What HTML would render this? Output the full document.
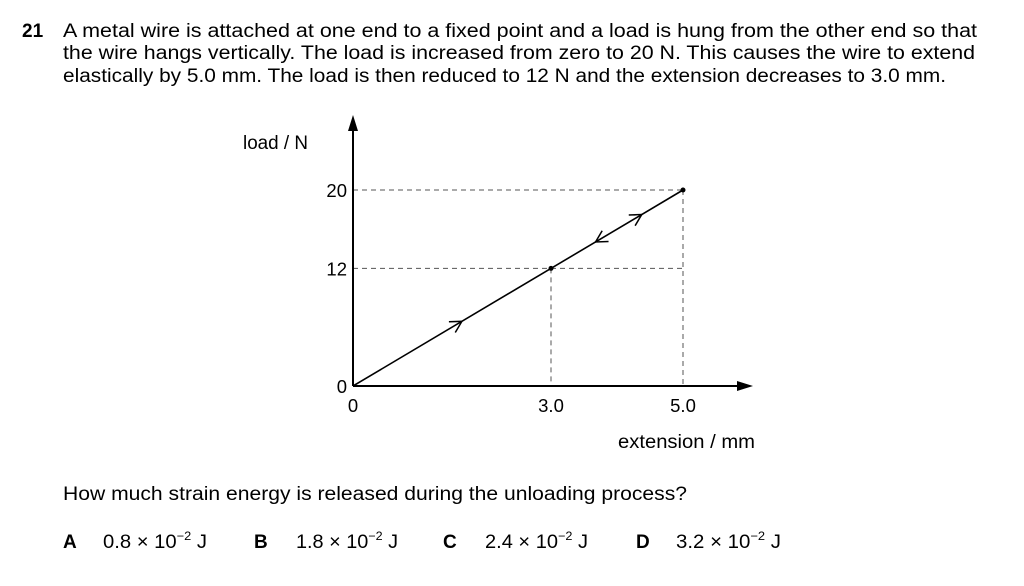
<!DOCTYPE html>
<html><head><meta charset="utf-8"><style>
html,body{margin:0;padding:0;background:#fff;}
svg{display:block;font-family:"Liberation Sans",Arial,sans-serif;}
</style></head><body>
<svg id="page" width="1024" height="586" viewBox="0 0 1024 586">
<g font-size="19" fill="#000">
<text x="22" y="37" font-weight="bold">21</text>
<text x="63" y="37" textLength="914" lengthAdjust="spacingAndGlyphs">A metal wire is attached at one end to a fixed point and a load is hung from the other end so that</text>
<text x="63" y="59" textLength="912" lengthAdjust="spacingAndGlyphs">the wire hangs vertically. The load is increased from zero to 20 N. This causes the wire to extend</text>
<text x="63" y="82" textLength="883" lengthAdjust="spacingAndGlyphs">elastically by 5.0 mm. The load is then reduced to 12 N and the extension decreases to 3.0 mm.</text>
</g>
<g id="chart"></g>
<text x="63" y="500" font-size="19" textLength="624" lengthAdjust="spacingAndGlyphs">How much strain energy is released during the unloading process?</text>
<g font-size="19">
<g><text x="63" y="548" font-weight="bold">A</text><text x="103" y="548" textLength="104" lengthAdjust="spacingAndGlyphs">0.8 × 10<tspan dy="-8" font-size="12">−2</tspan><tspan dy="8"> J</tspan></text></g>
<g><text x="254" y="548" font-weight="bold">B</text><text x="296" y="548" textLength="102" lengthAdjust="spacingAndGlyphs">1.8 × 10<tspan dy="-8" font-size="12">−2</tspan><tspan dy="8"> J</tspan></text></g>
<g><text x="443" y="548" font-weight="bold">C</text><text x="485" y="548" textLength="103" lengthAdjust="spacingAndGlyphs">2.4 × 10<tspan dy="-8" font-size="12">−2</tspan><tspan dy="8"> J</tspan></text></g>
<g><text x="636" y="548" font-weight="bold">D</text><text x="676" y="548" textLength="105" lengthAdjust="spacingAndGlyphs">3.2 × 10<tspan dy="-8" font-size="12">−2</tspan><tspan dy="8"> J</tspan></text></g>
</g>
</svg>
<script>
const xTicks=[0,3.0,5.0];
const xTickLabels=["0","3.0","5.0"];
const yTicks=[0,12,20];
const yTickLabels=["0","12","20"];
const pathExt=[0,5.0,3.0];
const pathLoad=[0,20,12];
const NS="http://www.w3.org/2000/svg";
const g=document.getElementById('chart');
const X0=353,Y0=386,SX=66,SY=9.8;
function sx(v){return X0+v*SX;}
function sy(v){return Y0-v*SY;}
function mk(t,a,parent){const e=document.createElementNS(NS,t);for(const k in a)e.setAttribute(k,a[k]);(parent||g).appendChild(e);return e;}
for(let i=1;i<pathExt.length;i++){
  let l=mk('line',{x1:X0,y1:sy(pathLoad[i]),x2:sx(5.0),y2:sy(pathLoad[i]),stroke:'#555','stroke-dasharray':'5,4','stroke-width':1});
  
  
  let v=mk('line',{x1:sx(pathExt[i]),y1:sy(pathLoad[i]),x2:sx(pathExt[i]),y2:Y0,stroke:'#555','stroke-dasharray':'5,4','stroke-width':1});
  
  
}
let ax=mk('line',{x1:X0,y1:Y0,x2:745,y2:Y0,stroke:'#000','stroke-width':2});


let axh=mk('polygon',{points:`753,${Y0} 737,${Y0-5} 737,${Y0+5}`,fill:'#000'});


let ay=mk('line',{x1:X0,y1:Y0,x2:X0,y2:124,stroke:'#000','stroke-width':2});


let ayh=mk('polygon',{points:`${X0},115 ${X0-5},131 ${X0+5},131`,fill:'#000'});


xTicks.forEach((v,i)=>{let t=mk('text',{x:sx(v),y:Y0+26,'font-size':18.5,'text-anchor':'middle'});t.textContent=xTickLabels[i];

});
yTicks.forEach((v,i)=>{let t=mk('text',{x:X0-6,y:sy(v)+7,'font-size':18.5,'text-anchor':'end'});t.textContent=yTickLabels[i];

});
let yt=mk('text',{x:243,y:149,'font-size':19,textLength:65,lengthAdjust:'spacingAndGlyphs'});yt.textContent='load / N';


let xt=mk('text',{x:618,y:448,'font-size':19,textLength:137,lengthAdjust:'spacingAndGlyphs'});xt.textContent='extension / mm';


let pl=mk('line',{x1:sx(pathExt[0]),y1:sy(pathLoad[0]),x2:sx(pathExt[1]),y2:sy(pathLoad[1]),stroke:'#000','stroke-width':1.6});


for(let i=1;i<pathExt.length;i++){
  let c=mk('circle',{cx:sx(pathExt[i]),cy:sy(pathLoad[i]),r:2.5,fill:'#000'});
  
  
}
function arrow(fx,x0,y0,x1,y1,dir){
  const px=sx(x0+(x1-x0)*fx),py=sy(y0+(y1-y0)*fx);
  const ang=Math.atan2(sy(y1)-sy(y0),sx(x1)-sx(x0))+(dir<0?Math.PI:0);
  const L=13,a=0.5;
  const d=`M${px-L*Math.cos(ang-a)},${py-L*Math.sin(ang-a)} L${px},${py} L${px-L*Math.cos(ang+a)},${py-L*Math.sin(ang+a)}`;
  return mk('path',{d:d,fill:'none',stroke:'#000','stroke-width':1.5});
}
let a1=arrow(0.33,pathExt[0],pathLoad[0],pathExt[1],pathLoad[1],1);


let a2=arrow(0.875,pathExt[0],pathLoad[0],pathExt[1],pathLoad[1],1);


let a3=arrow(0.735,pathExt[0],pathLoad[0],pathExt[1],pathLoad[1],-1);


</script>
</body></html>
